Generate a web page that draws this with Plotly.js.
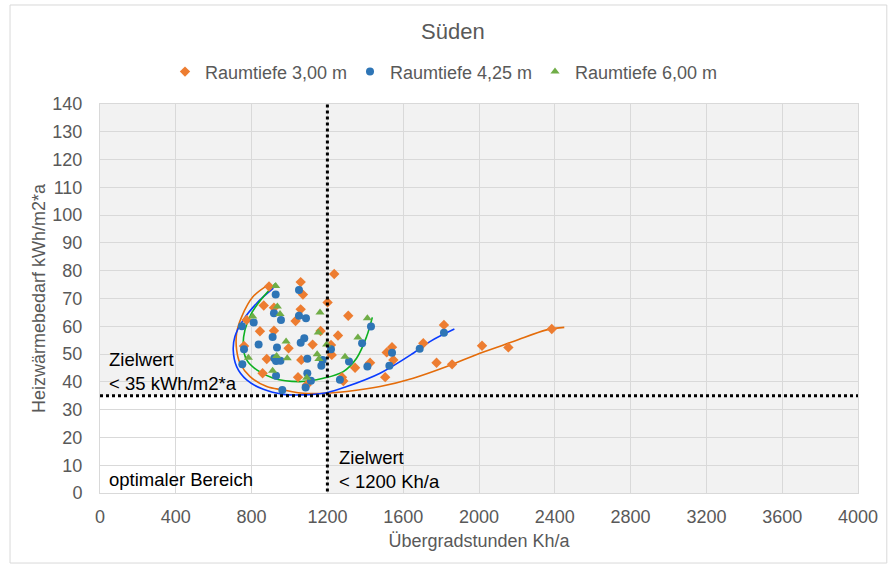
<!DOCTYPE html>
<html>
<head>
<meta charset="utf-8">
<script src="https://cdn.plot.ly/plotly-3.0.1.min.js"></script>
<style>html,body{margin:0;padding:0;background:#fff;}#chart{width:888px;height:566px;}</style>
</head>
<body>
<div id="chart"></div>
<script>
// Raumtiefe 3,00 m (orange diamonds)
const orangeX = [1236,1059,1071,892,864,918,1059,1201,1032,774,844,918,1164,1256,1122,995,760,880,1062,1045,1310,1219,1223,1346,1277,1284,1425,1505,1513,1541,1548,1706,1815,1776,1858,2016,2155,2384,858,1091];
const orangeY = [78.8,75.9,71.4,74.3,67.5,66.7,66.1,68.6,61.9,62.3,58.2,58.4,58.3,56.7,53.4,52.1,52.9,48.2,47.9,41.7,63.8,53.3,49.7,45.1,41.7,40.3,46.9,41.7,50.6,52.5,47.9,53.9,60.5,46.9,46.3,53.0,52.4,59.0,43.1,38.9];
// Raumtiefe 4,25 m (blue circles)
const blueX = [1050,927,918,955,811,749,1050,1087,911,1078,1059,837,934,760,1094,929,952,751,1175,1219,1094,1085,962,1113,1168,1266,1314,1383,1430,1411,1527,1541,1687,1815,929,920];
const blueY = [73.1,71.4,64.7,62.3,61.4,60.0,63.8,62.9,56.1,55.7,54.1,53.4,52.4,51.7,48.3,47.5,47.6,46.3,47.9,51.7,43.1,38.0,37.1,40.4,45.8,40.8,47.3,53.9,59.9,45.5,45.8,50.5,51.9,57.7,42.2,48.5];
// Raumtiefe 6,00 m (green triangles)
const greenX = [927,936,950,806,982,783,932,988,911,1161,1152,1146,1155,1196,1293,1361,1411,1091];
const greenY = [74.5,67.1,64.4,63.5,54.5,48.7,49.3,48.5,44.0,65.0,57.8,49.9,48.2,53.4,49.0,56.0,62.9,41.5];
// trend curves
const orangeCurveX = [888,807,748,721,721,739,792,880,966,1073,1196,1302,1478,1653,1830,2005,2181,2357,2450];
const orangeCurveY = [74.9,70.6,63.5,57.5,51.5,46.7,41.9,38.3,37.1,35.9,35.9,36.5,38.3,41.3,45.5,50.3,54.5,58.7,59.6];
const blueCurveX = [915,827,756,712,703,721,774,862,967,1055,1196,1302,1478,1653,1741,1870];
const blueCurveY = [73.7,68.3,62.3,56.3,51.5,45.5,40.7,37.3,35.5,35.3,36.1,38.3,43.1,50.3,54.5,59.0];
const greenCurveX = [927,862,800,765,756,774,827,915,1055,1178,1284,1354,1407,1437];
const greenCurveY = [75.5,70.6,64.7,58.7,52.7,47.9,44.3,41.3,40.1,41.3,43.7,48.5,56.3,63.2];
// axis ticks
const xTicks = [0,400,800,1200,1600,2000,2400,2800,3200,3600,4000];
const yTicks = [0,10,20,30,40,50,60,70,80,90,100,110,120,130,140];
const seriesNames = ["Raumtiefe 3,00 m","Raumtiefe 4,25 m","Raumtiefe 6,00 m"];
const targetX = 1200, targetY = 35;

const FONT = "Liberation Sans, Arial, sans-serif";
const traces = [
  {x: orangeCurveX, y: orangeCurveY, mode:"lines", line:{color:"#E46C0A", width:1.6, shape:"spline", smoothing:1}, showlegend:false, hoverinfo:"skip"},
  {x: blueCurveX, y: blueCurveY, mode:"lines", line:{color:"#0A3CFF", width:1.6, shape:"spline", smoothing:1}, showlegend:false, hoverinfo:"skip"},
  {x: greenCurveX, y: greenCurveY, mode:"lines", line:{color:"#0DB020", width:1.6, shape:"spline", smoothing:1}, showlegend:false, hoverinfo:"skip"},
  {x: orangeX, y: orangeY, mode:"markers", name: seriesNames[0], marker:{symbol:"diamond", size:8, color:"#ED7D31"}},
  {x: blueX, y: blueY, mode:"markers", name: seriesNames[1], marker:{symbol:"circle", size:8, color:"#2E75B6"}},
  {x: greenX, y: greenY, mode:"markers", name: seriesNames[2], marker:{symbol:"triangle-up", size:8, color:"#70AD47"}}
];

const layout = {
  width: 888, height: 566,
  margin: {l:100, r:30, t:104, b:73},
  paper_bgcolor: "#ffffff",
  plot_bgcolor: "#f2f2f2",
  font: {family: FONT, size: 18, color: "#595959"},
  title: {text: "Süden", x: 0.51, xref: "container", y: 0.945, yref:"container", yanchor:"middle", font: {family: FONT, size: 22, color: "#595959"}},
  showlegend: true,
  legend: {orientation: "h", x: 165/888, xref:"container", xanchor: "left", y: 0.873, yref:"container", yanchor: "middle",
           font: {family: FONT, size: 18, color: "#595959"}, itemwidth: 30, entrywidth: 140, entrywidthmode: "pixels",
           tracegroupgap: 0, bgcolor:"rgba(0,0,0,0)"},
  xaxis: {range: [0, 4000], tickvals: xTicks, ticktext: xTicks.map(String), showgrid: true, gridcolor: "#d9d9d9", gridwidth: 1,
          zeroline: false, showline: true, linecolor: "#d9d9d9", mirror: true, ticks: "", ticklen: 0, ticklabelstandoff: 7,
          tickfont: {family: FONT, size: 18, color: "#595959"},
          title: {text: "Übergradstunden Kh/a", standoff: 8, font: {family: FONT, size: 18, color: "#595959"}}},
  yaxis: {range: [0, 140], tickvals: yTicks, ticktext: yTicks.map(String), showgrid: true, gridcolor: "#d9d9d9", gridwidth: 1,
          zeroline: false, showline: true, linecolor: "#d9d9d9", mirror: true, ticks: "", ticklen: 0, ticklabelstandoff: 13,
          tickfont: {family: FONT, size: 18, color: "#595959"},
          title: {text: "Heizwärmebedarf kWh/m2*a", standoff: 2, font: {family: FONT, size: 18, color: "#595959"}}},
  shapes: [
    {type:"rect", xref:"x", yref:"y", x0:0, x1:targetX, y0:0, y1:targetY, fillcolor:"#ffffff", line:{width:0}, layer:"below"},
    {type:"line", xref:"x", yref:"y", x0:0, x1:4010, y0:targetY, y1:targetY, line:{color:"#000000", width:3, dash:"dot"}},
    {type:"line", xref:"x", yref:"y", x0:targetX, x1:targetX, y0:0.5, y1:140, line:{color:"#000000", width:3, dash:"dot"}},
    {type:"rect", xref:"paper", yref:"paper", x0:-0.1187, x1:1.038, y0:-0.18, y1:1.2545, line:{color:"#d9d9d9", width:1}, fillcolor:"rgba(0,0,0,0)", layer:"below"}
  ],
  annotations: [
    {x: 37, y: 43.9, xref:"x", yref:"y", xanchor:"left", yanchor:"middle", align:"left", showarrow:false,
     text:"Zielwert<br>< 35 kWh/m2*a", font:{family: FONT, size:18.5, color:"#000000"}},
    {x: 37, y: 5.0, xref:"x", yref:"y", xanchor:"left", yanchor:"middle", align:"left", showarrow:false,
     text:"optimaler Bereich", font:{family: FONT, size:18.5, color:"#000000"}},
    {x: 1251, y: 8.6, xref:"x", yref:"y", xanchor:"left", yanchor:"middle", align:"left", showarrow:false,
     text:"Zielwert<br>< 1200 Kh/a", font:{family: FONT, size:18.5, color:"#000000"}}
  ]
};

Plotly.newPlot("chart", traces, layout, {displayModeBar: false, staticPlot: true});
</script>
</body>
</html>
